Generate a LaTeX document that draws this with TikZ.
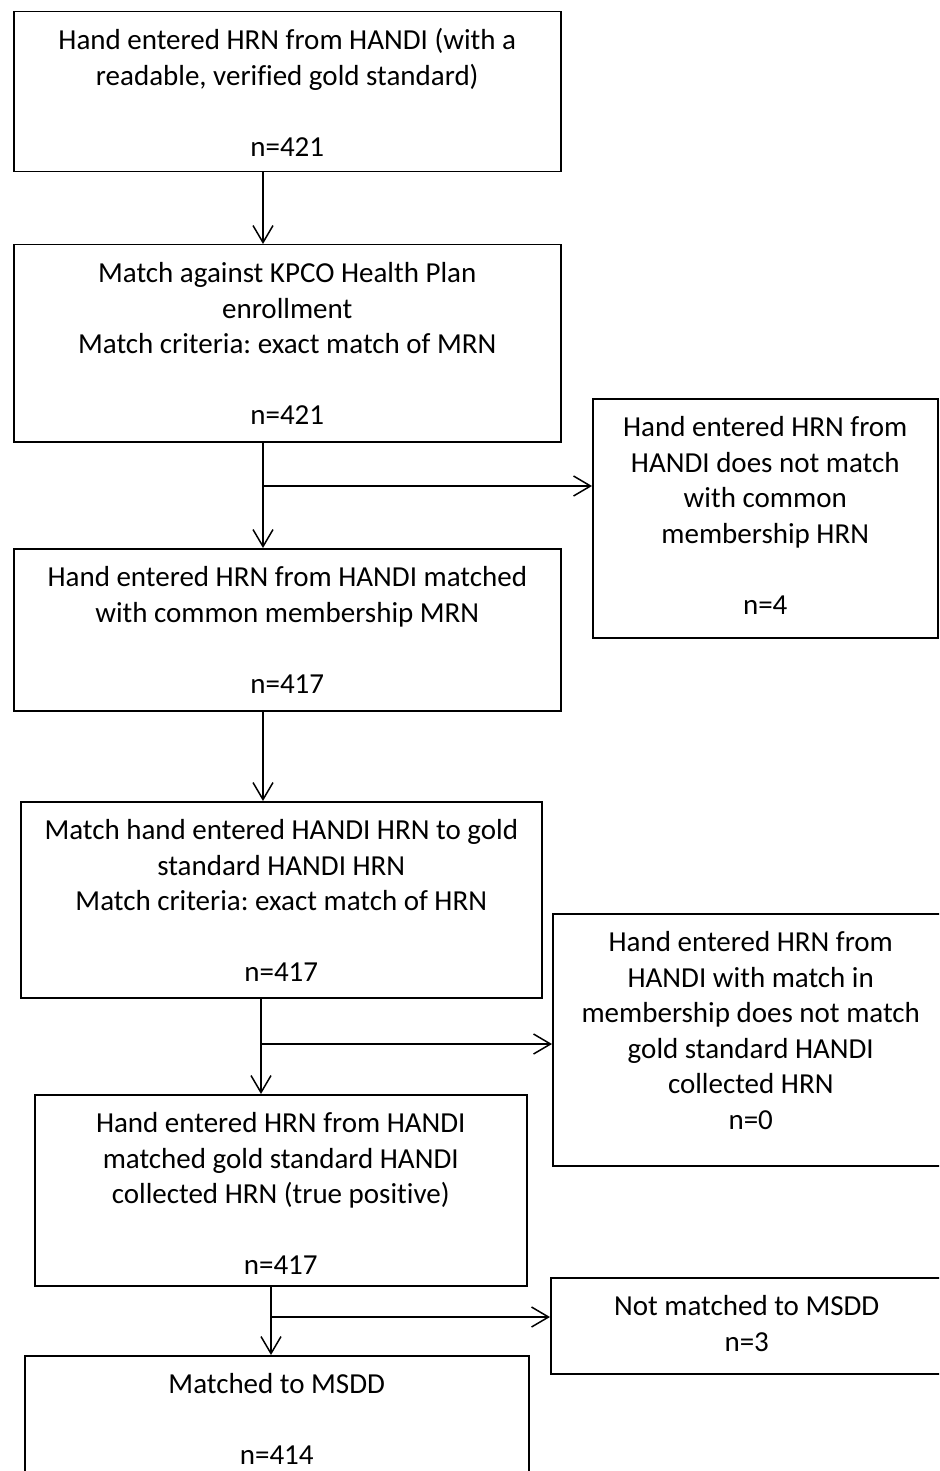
\documentclass[tikz,border=0pt]{standalone}
\usepackage{fontspec}
\setmainfont{Carlito}[Ligatures={NoCommon}]
\usetikzlibrary{arrows.meta}
\frenchspacing
\def\boxtext#1#2#3{\parbox[c][#2pt][t]{#1pt}{\centering\rule{0pt}{38pt}#3}}
\tikzset{
	flowbox/.style={draw, line width=1.5pt, inner sep=0pt, anchor=north west},
	flowarrow/.style={line width=1.5pt, -{Straight Barb[length=17pt, width=20pt, line width=1.5pt]}}
}

\begin{document}
\begin{tikzpicture}[x=1pt, y=-1pt, font=\fontsize{29pt}{35.5pt}\selectfont]
		%%%%% START %%%%%
		
		\useasboundingbox (0, 0) rectangle (939, 1471);
		\clip (0, 0) rectangle (939, 1471);
		
		% main column
		\node[flowbox] (hrn) at (13, 11) {\boxtext{547}{160}{Hand entered HRN from HANDI (with a\\readable, verified gold standard)\\[35.5pt]n=421}};
		\node[flowbox] (kpco) at (13, 244) {\boxtext{547}{197}{Match against KPCO Health Plan\\enrollment\\Match criteria: exact match of MRN\\[35.5pt]n=421}};
		\node[flowbox] (mrn) at (13, 548) {\boxtext{547}{162}{Hand entered HRN from HANDI matched\\with common membership MRN\\[35.5pt]n=417}};
		\node[flowbox] (gold) at (20, 801) {\boxtext{521}{196}{Match hand entered HANDI HRN to gold\\standard HANDI HRN\\Match criteria: exact match of HRN\\[35.5pt]n=417}};
		\node[flowbox] (tp) at (34, 1094) {\boxtext{492}{191}{Hand entered HRN from HANDI\\matched gold standard HANDI\\collected HRN (true positive)\\[35.5pt]n=417}};
		\node[flowbox] (msdd) at (24, 1355) {\boxtext{504}{165}{Matched to MSDD\\[35.5pt]n=414}};
		
		% excluded
		\node[flowbox] (nomrn) at (592, 398) {\boxtext{345}{239}{Hand entered HRN from\\HANDI does not match\\with common\\membership HRN\\[35.5pt]n=4}};
		\node[flowbox] (nogold) at (552, 913) {\boxtext{396}{252}{Hand entered HRN from\\HANDI with match in\\membership does not match\\gold standard HANDI\\collected HRN\\n=0}};
		\node[flowbox] (nomsdd) at (550, 1277) {\boxtext{392}{96}{Not matched to MSDD\\n=3}};
		
		% arrows
		\coordinate (a1) at (263, 0);
		\coordinate (a4) at (261, 0);
		\coordinate (a5) at (271, 0);
		\coordinate (b1) at (263, 486);
		\coordinate (b2) at (261, 1044);
		\coordinate (b3) at (271, 1317);
		
		\draw[flowarrow] (hrn.south -| a1) -- (kpco.north -| a1);
		\draw[flowarrow] (kpco.south -| a1) -- (mrn.north -| a1);
		\draw[flowarrow] (b1) -- (b1 -| nomrn.west);
		\draw[flowarrow] (mrn.south -| a1) -- (gold.north -| a1);
		\draw[flowarrow] (gold.south -| a4) -- (tp.north -| a4);
		\draw[flowarrow] (b2) -- (b2 -| nogold.west);
		\draw[flowarrow] (tp.south -| a5) -- (msdd.north -| a5);
		\draw[flowarrow] (b3) -- (b3 -| nomsdd.west);
		
		%%%%% END %%%%%
\end{tikzpicture}
\end{document}
